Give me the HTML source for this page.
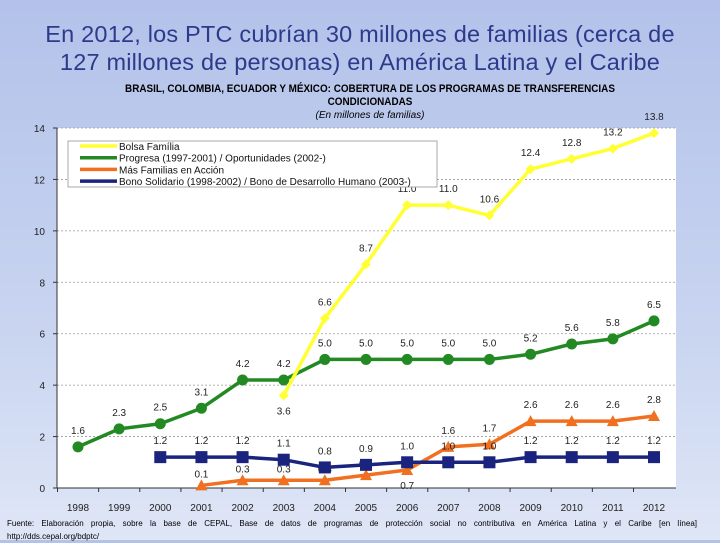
<!DOCTYPE html>
<html><head><meta charset="utf-8"><style>
body{margin:0;width:720px;height:540px;overflow:hidden;background:linear-gradient(#b3c2ea,#c8d4f0 60%,#dfe6f6);font-family:"Liberation Sans",sans-serif;position:relative}
.t{position:absolute;left:0;width:720px;text-align:center}
</style></head><body>
<div class="t" style="top:20px;font-size:23.5px;line-height:28px;color:#2d3a8c;letter-spacing:0.2px">En 2012, los PTC cubrían 30 millones de familias (cerca de<br>127 millones de personas) en América Latina y el Caribe</div>
<div class="t" style="top:83px;font-size:11px;line-height:13px;color:#000;left:10px;font-weight:bold;transform:scaleX(0.9)">BRASIL, COLOMBIA, ECUADOR Y MÉXICO: COBERTURA DE LOS PROGRAMAS DE TRANSFERENCIAS<br>CONDICIONADAS</div>
<div class="t" style="top:110px;font-size:10px;font-style:italic;left:10px">(En millones de familias)</div>
<svg id="c" width="720" height="540" style="position:absolute;left:0;top:0" font-family="Liberation Sans, sans-serif"></svg>
<div style="position:absolute;left:7px;width:690px;top:517px;font-size:8px;line-height:13px;color:#000;text-align:justify;text-align-last:justify">Fuente: Elaboración propia, sobre la base de CEPAL, Base de datos de programas de protección social no contributiva en América Latina y el Caribe [en línea]</div>
<div style="position:absolute;left:7px;top:530px;font-size:8px;line-height:13px;color:#000">http://dds.cepal.org/bdptc/</div>
<script>
const years=[1998,1999,2000,2001,2002,2003,2004,2005,2006,2007,2008,2009,2010,2011,2012];
const bolsa=[null,null,null,null,null,3.6,6.6,8.7,11.0,11.0,10.6,12.4,12.8,13.2,13.8];
const progresa=[1.6,2.3,2.5,3.1,4.2,4.2,5.0,5.0,5.0,5.0,5.0,5.2,5.6,5.8,6.5];
const masFamilias=[null,null,null,0.1,0.3,0.3,0.3,0.5,0.7,1.6,1.7,2.6,2.6,2.6,2.8];
const bono=[null,null,1.2,1.2,1.2,1.1,0.8,0.9,1.0,1.0,1.0,1.2,1.2,1.2,1.2];
const yTicks=[0,2,4,6,8,10,12,14];
const NS='http://www.w3.org/2000/svg';
const svg=document.getElementById('c');
const x0=57,x1=676,yTop=128,yBot=488;
const xs=i=>78+i*(654-78)/(years.length-1);
const ys=v=>yBot-v*(yBot-yTop)/14;
function el(t,a,p){const e=document.createElementNS(NS,t);for(const k in a)e.setAttribute(k,a[k]);(p||svg).appendChild(e);return e;}
const bg=el('rect',{x:x0,y:yTop,width:x1-x0,height:yBot-yTop,fill:'#fff'});


yTicks.forEach(v=>{
 if(v>0){const g=el('line',{x1:x0,x2:x1,y1:ys(v),y2:ys(v),stroke:'#999','stroke-dasharray':'2,2','stroke-width':0.8});
 
 }
 const t=el('text',{x:45,y:ys(v)+4,'text-anchor':'end','font-size':10,fill:'#222'});t.textContent=v;
 
 
 el('line',{x1:x0-4,x2:x0,y1:ys(v),y2:ys(v),stroke:'#333'});
});
el('line',{x1:x0,x2:x0,y1:yTop,y2:yBot,stroke:'#333'});
el('line',{x1:x0,x2:x1,y1:yBot,y2:yBot,stroke:'#333'});
years.forEach((y,i)=>{
 const t=el('text',{x:xs(i),y:511,'text-anchor':'middle','font-size':10,fill:'#222'});t.textContent=y;
 
 
 el('line',{x1:xs(i)-20.5,x2:xs(i)-20.5,y1:yBot,y2:yBot+4,stroke:'#333'});
});
function series(vals,color,shape,name,below){
 const g=el('g',{});
 
 
 let d='';vals.forEach((v,i)=>{if(v==null)return;d+=(d?'L':'M')+xs(i)+','+ys(v);});
 el('path',{d:d,fill:'none',stroke:color,'stroke-width':3.5,'stroke-linejoin':'round'},g);
 vals.forEach((v,i)=>{if(v==null)return;const cx=xs(i),cy=ys(v);let m;
  if(shape=='circle')m=el('circle',{cx:cx,cy:cy,r:5.5,fill:color},g);
  else if(shape=='square')m=el('rect',{x:cx-6,y:cy-6,width:12,height:12,fill:color},g);
  else if(shape=='tri')m=el('path',{d:`M${cx},${cy-6}L${cx+6},${cy+5}L${cx-6},${cy+5}Z`,fill:color},g);
  else m=el('path',{d:`M${cx},${cy-5}L${cx+5},${cy}L${cx},${cy+5}L${cx-5},${cy}Z`,fill:color},g);
  
  
  const b=below(i);const t=el('text',{x:cx,y:b?cy+19:cy-(shape=='tri'&&i<=7?8:13),'text-anchor':'middle','font-size':10,fill:'#222'},g);t.textContent=v.toFixed(1);
  
  
 });
}
series(masFamilias,'#f07020','tri','mas-familias-series',i=>i==8);
series(bono,'#1a237e','square','bono-series',i=>false);
series(progresa,'#238a23','circle','progresa-series',i=>false);
series(bolsa,'#ffff33','diamond','bolsa-familia-series',i=>i==5);
const lg=el('g',{});


el('rect',{x:68,y:141,width:369,height:46,fill:'#fff',stroke:'#aaa'},lg);
[['Bolsa Família','#ffff33'],['Progresa (1997-2001) / Oportunidades (2002-)','#238a23'],['Más Familias en Acción','#f07020'],['Bono Solidario (1998-2002) / Bono de Desarrollo Humano (2003-)','#1a237e']].forEach((e,i)=>{
 const y=146+i*11.7;
 el('line',{x1:80,x2:117,y1:y,y2:y,stroke:e[1],'stroke-width':3.5},lg);
 const t=el('text',{x:119,y:y+4,'font-size':10,fill:'#111'},lg);t.textContent=e[0];
 
 
});
</script>
</body></html>
